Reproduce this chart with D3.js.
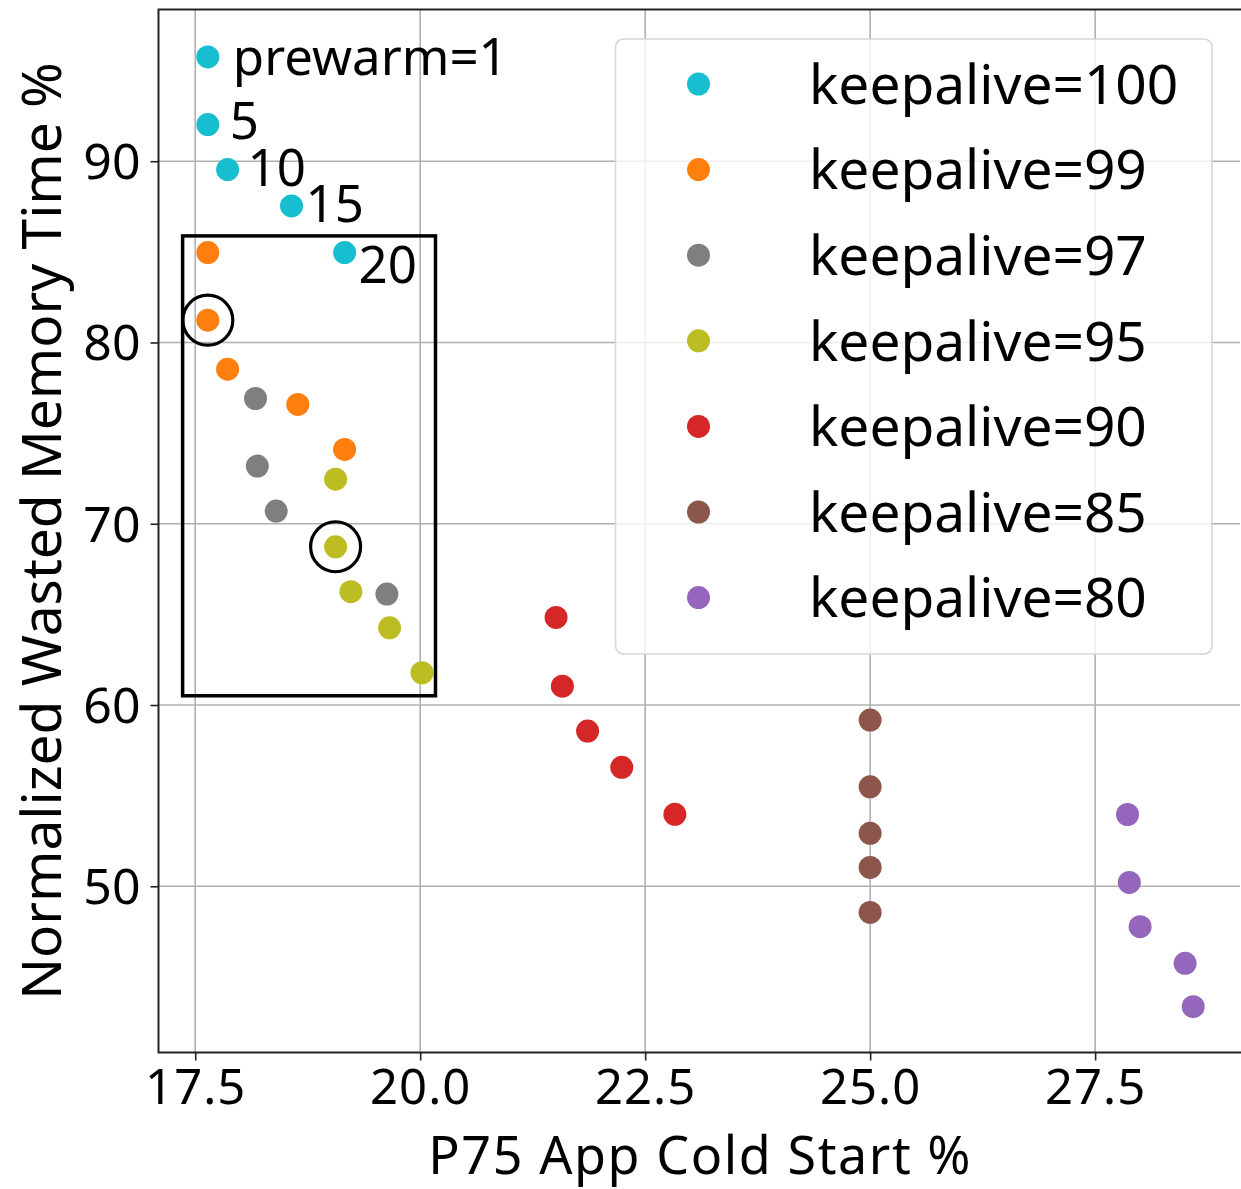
<!DOCTYPE html>
<html><head><meta charset="utf-8">
<script src="https://cdn.jsdelivr.net/npm/d3@7"></script>
<style>body{margin:0;background:#fff}svg{display:block}text{font-family:"Noto Sans",sans-serif;fill:#000}</style>
</head><body><svg id="c" width="1241" height="1189"></svg>
<script>
const seriesNames = ["keepalive=100","keepalive=99","keepalive=97","keepalive=95","keepalive=90","keepalive=85","keepalive=80"];
const seriesColors = ["#17becf","#ff7f0e","#7f7f7f","#bcbd22","#d62728","#8c564b","#9467bd"];
const ka100X = [17.64,17.64,17.86,18.57,19.16];
const ka100Y = [95.75,92.02,89.54,87.53,84.96];
const ka99X = [17.64,17.64,17.86,18.64,19.16];
const ka99Y = [84.96,81.23,78.53,76.58,74.10];
const ka97X = [18.17,18.19,18.40,19.63];
const ka97Y = [76.91,73.18,70.70,66.12];
const ka95X = [19.06,19.06,19.23,19.66,20.02];
const ka95Y = [72.46,68.73,66.25,64.26,61.78];
const ka90X = [21.51,21.58,21.86,22.24,22.83];
const ka90Y = [64.83,61.04,58.56,56.56,53.97];
const ka85X = [25.0,25.0,25.0,25.0,25.0];
const ka85Y = [59.17,55.49,52.92,51.04,48.56];
const ka80X = [27.86,27.88,28.0,28.5,28.59];
const ka80Y = [53.96,50.21,47.77,45.75,43.36];
const xTicks = [17.5,20.0,22.5,25.0,27.5];
const yTicks = [50,60,70,80,90];
const prewarmLabels = ["prewarm=1","5","10","15","20"];
const circledX = [17.64,19.06];
const circledY = [81.23,68.73];
const boxX = [17.36,20.17];
const boxY = [85.88,60.51];

const seriesX = [ka100X,ka99X,ka97X,ka95X,ka90X,ka85X,ka80X];
const seriesY = [ka100Y,ka99Y,ka97Y,ka95Y,ka90Y,ka85Y,ka80Y];

const L=158.5, R=1240, T=9.5, B=1052.5;
const x = d3.scaleLinear().domain([17.092,29.11]).range([L,R]);
const y = d3.scaleLinear().domain([40.83,98.37]).range([B,T]);
const svg = d3.select("#c");

// grid
const g = svg.append("g");
g.selectAll("line.vx").data(xTicks).enter().append("line")
 .attr("x1",d=>x(d)).attr("x2",d=>x(d)).attr("y1",T).attr("y2",B)
 .attr("stroke","#b0b0b0").attr("stroke-width",1.6);
g.selectAll("line.hy").data(yTicks).enter().append("line")
 .attr("y1",d=>y(d)).attr("y2",d=>y(d)).attr("x1",L).attr("x2",R)
 .attr("stroke","#b0b0b0").attr("stroke-width",1.6);

// axes
const xa = svg.append("g").attr("transform",`translate(0,${B})`)
 .call(d3.axisBottom(x).tickValues(xTicks).tickFormat(d3.format(".1f")).tickSize(8).tickSizeOuter(0));
const ya = svg.append("g").attr("transform",`translate(${L},0)`)
 .call(d3.axisLeft(y).tickValues(yTicks).tickFormat(d3.format("d")).tickSize(8).tickSizeOuter(0));
[xa,ya].forEach(a=>{a.select(".domain").remove();a.selectAll("line").attr("stroke","#222").attr("stroke-width",1.6);
 a.selectAll("text").style("font-size","50px").attr("fill","#111");});
xa.selectAll("text").attr("dy","0").attr("y",51).style("font-size","49px").style("letter-spacing","1px");
ya.selectAll("text").attr("dy","0.35em").attr("x",-18);

// spines
svg.append("rect").attr("x",L).attr("y",T).attr("width",R-L+2).attr("height",B-T)
 .attr("fill","none").attr("stroke","#222").attr("stroke-width",2);

// points
seriesX.forEach((xs,i)=>{
  svg.append("g").selectAll("circle").data(xs.map((v,j)=>[v,seriesY[i][j]])).enter().append("circle")
   .attr("cx",d=>x(d[0])).attr("cy",d=>y(d[1])).attr("r",11.5).attr("fill",seriesColors[i]);
});

// prewarm labels
const lblDx=[25,22,20,14,14], lblDy=[18,14,16,16,30];
svg.append("g").selectAll("text").data(prewarmLabels).enter().append("text")
 .attr("x",(d,i)=>x(ka100X[i])+lblDx[i]).attr("y",(d,i)=>y(ka100Y[i])+lblDy[i])
 .style("font-size","51px").text(d=>d);

// annotation circles and box
svg.append("g").selectAll("circle").data(circledX).enter().append("circle")
 .attr("cx",d=>x(d)).attr("cy",(d,i)=>y(circledY[i])).attr("r",25)
 .attr("fill","none").attr("stroke","#000").attr("stroke-width",3.2);
svg.append("rect").attr("x",x(boxX[0])).attr("y",y(boxY[0]))
 .attr("width",x(boxX[1])-x(boxX[0])).attr("height",y(boxY[1])-y(boxY[0]))
 .attr("fill","none").attr("stroke","#000").attr("stroke-width",3.5);

// legend
const lg = svg.append("g");
lg.append("rect").attr("x",615.5).attr("y",39).attr("width",596.5).attr("height",615).attr("rx",8)
 .attr("fill","rgba(255,255,255,0.8)").attr("stroke","#d6d6d6").attr("stroke-width",1.6);
seriesNames.forEach((n,i)=>{
  const cy=84+i*85.6;
  lg.append("circle").attr("cx",698.5).attr("cy",cy).attr("r",11.5).attr("fill",seriesColors[i]);
  lg.append("text").attr("x",809).attr("y",cy).attr("dy","0.36em").style("font-size","55px").text(n);
});

// titles
svg.append("text").attr("x",(L+R)/2+1).attr("y",1173.5).attr("text-anchor","middle").style("font-size","52px").style("letter-spacing","1.6px").text("P75 App Cold Start %");
svg.append("text").attr("transform",`translate(61,${(T+B)/2}) rotate(-90)`).attr("text-anchor","middle").style("font-size","55px").text("Normalized Wasted Memory Time %");
</script></body></html>
